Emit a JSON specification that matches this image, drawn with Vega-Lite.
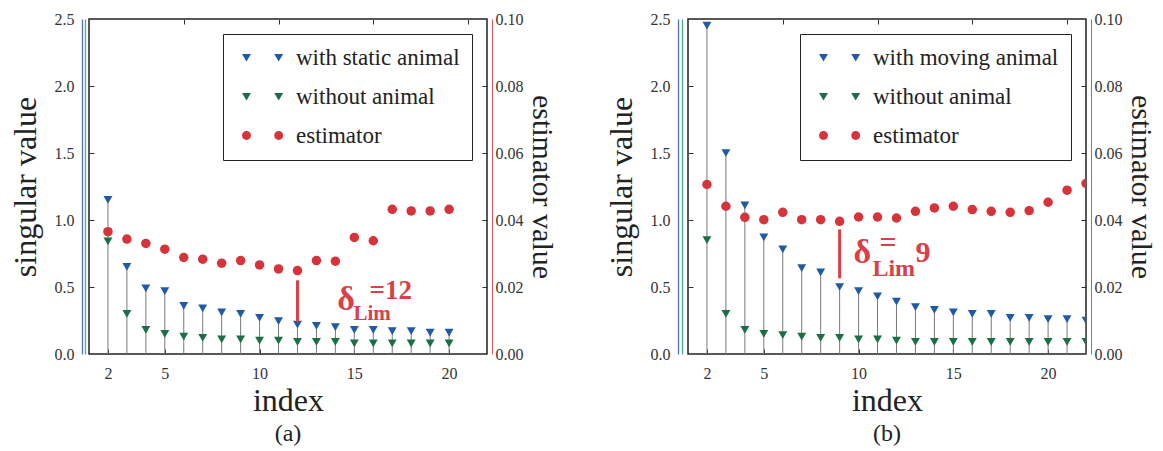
{
  "$schema": "https://vega.github.io/schema/vega-lite/v6.json",
  "background": "white",
  "padding": {"left": 8, "top": 10, "right": 0, "bottom": 5},
  "spacing": 47,
  "datasets": {
    "a": [
      {"i": 2, "w": 1.15, "wo": 0.84, "e": 0.0365},
      {"i": 3, "w": 0.65, "wo": 0.30, "e": 0.0343},
      {"i": 4, "w": 0.49, "wo": 0.18, "e": 0.0330},
      {"i": 5, "w": 0.47, "wo": 0.15, "e": 0.0313},
      {"i": 6, "w": 0.36, "wo": 0.13, "e": 0.0288},
      {"i": 7, "w": 0.34, "wo": 0.12, "e": 0.0283},
      {"i": 8, "w": 0.31, "wo": 0.11, "e": 0.0271},
      {"i": 9, "w": 0.30, "wo": 0.11, "e": 0.0279},
      {"i": 10, "w": 0.27, "wo": 0.10, "e": 0.0266},
      {"i": 11, "w": 0.245, "wo": 0.10, "e": 0.0254},
      {"i": 12, "w": 0.22, "wo": 0.09, "e": 0.0249},
      {"i": 13, "w": 0.21, "wo": 0.09, "e": 0.0279},
      {"i": 14, "w": 0.20, "wo": 0.09, "e": 0.0277},
      {"i": 15, "w": 0.18, "wo": 0.08, "e": 0.0348},
      {"i": 16, "w": 0.18, "wo": 0.08, "e": 0.0338},
      {"i": 17, "w": 0.17, "wo": 0.08, "e": 0.0432},
      {"i": 18, "w": 0.17, "wo": 0.08, "e": 0.0427},
      {"i": 19, "w": 0.16, "wo": 0.08, "e": 0.0427},
      {"i": 20, "w": 0.16, "wo": 0.08, "e": 0.0432}
    ],
    "b": [
      {"i": 2, "w": 2.45, "wo": 0.85, "e": 0.0506},
      {"i": 3, "w": 1.50, "wo": 0.30, "e": 0.0441},
      {"i": 4, "w": 1.11, "wo": 0.18, "e": 0.0408},
      {"i": 5, "w": 0.87, "wo": 0.15, "e": 0.0401},
      {"i": 6, "w": 0.78, "wo": 0.14, "e": 0.0423},
      {"i": 7, "w": 0.64, "wo": 0.13, "e": 0.0401},
      {"i": 8, "w": 0.61, "wo": 0.12, "e": 0.0401},
      {"i": 9, "w": 0.50, "wo": 0.12, "e": 0.0396},
      {"i": 10, "w": 0.47, "wo": 0.11, "e": 0.0409},
      {"i": 11, "w": 0.43, "wo": 0.11, "e": 0.0409},
      {"i": 12, "w": 0.39, "wo": 0.10, "e": 0.0406},
      {"i": 13, "w": 0.35, "wo": 0.09, "e": 0.0426},
      {"i": 14, "w": 0.33, "wo": 0.09, "e": 0.0436},
      {"i": 15, "w": 0.31, "wo": 0.09, "e": 0.0441},
      {"i": 16, "w": 0.30, "wo": 0.09, "e": 0.0431},
      {"i": 17, "w": 0.30, "wo": 0.09, "e": 0.0426},
      {"i": 18, "w": 0.27, "wo": 0.09, "e": 0.0423},
      {"i": 19, "w": 0.27, "wo": 0.09, "e": 0.0428},
      {"i": 20, "w": 0.26, "wo": 0.09, "e": 0.0453},
      {"i": 21, "w": 0.26, "wo": 0.09, "e": 0.0489},
      {"i": 22, "w": 0.25, "wo": 0.09, "e": 0.0509}
    ]
  },
  "resolve": {"scale": {"color": "independent", "shape": "independent"}, "legend": {"color": "independent", "shape": "independent"}},
  "hconcat": [
    {
      "width": 398,
      "height": 335,
      "data": {"name": "a"},
      "title": {"text": "(a)", "orient": "bottom", "font": "Liberation Serif", "fontSize": 24, "fontWeight": "normal", "color": "#222", "offset": 6},
      "resolve": {"scale": {"y": "independent"}, "axis": {"x": "independent", "y": "independent"}},
      "layer": [
        {
          "mark": {"type": "rule", "color": "#7a7a7a", "strokeWidth": 1, "clip": true},
          "encoding": {
            "x": {"field": "i", "type": "quantitative", "scale": {"domain": [1, 22], "nice": false, "zero": false},
              "axis": {"orient": "bottom", "values": [2, 5, 10, 15, 20], "tickSize": -5, "labelPadding": 16, "domain": false, "title": "index", "titlePadding": 4}},
            "y": {"field": "w", "type": "quantitative", "scale": {"domain": [0, 2.5], "nice": false},
              "axis": {"orient": "left", "values": [0.5, 1, 1.5, 2], "tickSize": -5, "labels": false, "domain": false, "title": null}},
            "y2": {"datum": 0}
          }
        },
        {
          "mark": {"type": "point", "shape": "triangle-down", "filled": true, "size": 80, "opacity": 1, "color": "#1f5aa6", "clip": true},
          "encoding": {
            "x": {"field": "i", "type": "quantitative", "axis": {"orient": "top", "values": [6, 11, 16, 21], "tickSize": -5, "labels": false, "domain": false, "title": null}},
            "y": {"field": "w", "type": "quantitative", "scale": {"domain": [0, 2.5], "nice": false},
              "axis": {"orient": "left", "offset": 7, "values": [0, 0.5, 1, 1.5, 2, 2.5], "format": ".1f", "ticks": false, "domainColor": "#4f74b3", "domainWidth": 1.3, "labelPadding": 8, "title": "singular value", "titlePadding": 12}}
          }
        },
        {
          "mark": {"type": "point", "shape": "triangle-down", "filled": true, "size": 80, "opacity": 1, "color": "#1b6e46", "clip": true},
          "encoding": {
            "x": {"field": "i", "type": "quantitative", "axis": null},
            "y": {"field": "wo", "type": "quantitative", "scale": {"domain": [0, 2.5], "nice": false},
              "axis": {"orient": "left", "offset": 4, "ticks": false, "labels": false, "domainColor": "#45b08f", "domainWidth": 1.3, "title": null}}
          }
        },
        {
          "mark": {"type": "point", "shape": "circle", "filled": true, "size": 90, "opacity": 1, "color": "#d6333a", "clip": true},
          "encoding": {
            "x": {"field": "i", "type": "quantitative", "axis": null},
            "y": {"field": "e", "type": "quantitative", "scale": {"domain": [0, 0.1], "nice": false},
              "axis": {"orient": "right", "offset": 5, "values": [0, 0.02, 0.04, 0.06, 0.08, 0.1], "format": ".2f", "ticks": false, "domainColor": "#d45a5a", "domainWidth": 1, "labelPadding": 3, "title": "estimator value", "titlePadding": 3, "titleFontSize": 30}}
          }
        },
        {
          "data": {"values": [{"s": "with static animal"}, {"s": "without animal"}, {"s": "estimator"}]},
          "mark": {"type": "point", "filled": true, "opacity": 0},
          "encoding": {
            "color": {"field": "s", "type": "nominal",
              "scale": {"domain": ["with static animal", "without animal", "estimator"], "range": ["#1f5aa6", "#1b6e46", "#d6333a"]},
              "legend": {"title": null, "orient": "top-right", "offset": 15, "strokeColor": "#222", "fillColor": "white", "padding": 12, "labelFont": "Liberation Serif", "labelFontSize": 23, "labelColor": "#222", "labelLimit": 400, "symbolSize": 80, "symbolOpacity": 1, "rowPadding": 15, "labelOffset": 38, "symbolStrokeWidth": 0}},
            "shape": {"field": "s", "type": "nominal",
              "scale": {"domain": ["with static animal", "without animal", "estimator"], "range": ["M-1,-0.8L1,-0.8L0,0.9Z M6.2,-0.8L8.2,-0.8L7.2,0.9Z", "M-1,-0.8L1,-0.8L0,0.9Z M6.2,-0.8L8.2,-0.8L7.2,0.9Z", "M1,0A1,1,0,1,1,-1,0A1,1,0,1,1,1,0Z M8.2,0A1,1,0,1,1,6.2,0A1,1,0,1,1,8.2,0Z"]},
              "legend": {"title": null, "orient": "top-right", "offset": 15, "strokeColor": "#222", "fillColor": "white", "padding": 12, "labelFont": "Liberation Serif", "labelFontSize": 23, "labelColor": "#222", "labelLimit": 400, "symbolSize": 80, "symbolOpacity": 1, "rowPadding": 15, "labelOffset": 38, "symbolStrokeWidth": 0}}
          }
        },
        {
          "data": {"values": [{}]},
          "mark": {"type": "rule", "color": "#d9404a", "strokeWidth": 3},
          "encoding": {
            "x": {"datum": 12, "type": "quantitative", "axis": null},
            "y": {"datum": 0.24, "type": "quantitative", "scale": {"domain": [0, 2.5], "nice": false},
              "axis": {"orient": "right", "values": [0.5, 1, 1.5, 2], "tickSize": -5, "labels": false, "domain": false, "title": null}},
            "y2": {"datum": 0.55}
          }
        },
        {
          "data": {"values": [{}]},
          "mark": {"type": "text", "color": "#d9404a", "font": "Liberation Serif", "fontWeight": "bold", "fontSize": 34, "align": "left", "baseline": "alphabetic"},
          "encoding": {
            "text": {"value": "δ"},
            "x": {"datum": 14.1, "type": "quantitative", "axis": null},
            "y": {"datum": 0.33, "type": "quantitative", "scale": {"domain": [0, 2.5], "nice": false}, "axis": null}
          }
        },
        {
          "data": {"values": [{}]},
          "mark": {"type": "text", "color": "#d9404a", "font": "Liberation Serif", "fontWeight": "bold", "fontSize": 21, "align": "left", "baseline": "alphabetic"},
          "encoding": {
            "text": {"value": "Lim"},
            "x": {"datum": 14.95, "type": "quantitative", "axis": null},
            "y": {"datum": 0.254, "type": "quantitative", "scale": {"domain": [0, 2.5], "nice": false}, "axis": null}
          }
        },
        {
          "data": {"values": [{}]},
          "mark": {"type": "text", "color": "#d9404a", "font": "Liberation Serif", "fontWeight": "bold", "fontSize": 27, "align": "left", "baseline": "alphabetic"},
          "encoding": {
            "text": {"value": "=12"},
            "x": {"datum": 15.8, "type": "quantitative", "axis": null},
            "y": {"datum": 0.41, "type": "quantitative", "scale": {"domain": [0, 2.5], "nice": false}, "axis": null}
          }
        }
      ]
    },
    {
      "width": 398,
      "height": 335,
      "data": {"name": "b"},
      "title": {"text": "(b)", "orient": "bottom", "font": "Liberation Serif", "fontSize": 24, "fontWeight": "normal", "color": "#222", "offset": 6},
      "resolve": {"scale": {"y": "independent"}, "axis": {"x": "independent", "y": "independent"}},
      "layer": [
        {
          "mark": {"type": "rule", "color": "#7a7a7a", "strokeWidth": 1, "clip": true},
          "encoding": {
            "x": {"field": "i", "type": "quantitative", "scale": {"domain": [1, 22], "nice": false, "zero": false},
              "axis": {"orient": "bottom", "values": [2, 5, 10, 15, 20], "tickSize": -5, "labelPadding": 16, "domain": false, "title": "index", "titlePadding": 4}},
            "y": {"field": "w", "type": "quantitative", "scale": {"domain": [0, 2.5], "nice": false},
              "axis": {"orient": "left", "values": [0.5, 1, 1.5, 2], "tickSize": -5, "labels": false, "domain": false, "title": null}},
            "y2": {"datum": 0}
          }
        },
        {
          "mark": {"type": "point", "shape": "triangle-down", "filled": true, "size": 80, "opacity": 1, "color": "#1f5aa6", "clip": true},
          "encoding": {
            "x": {"field": "i", "type": "quantitative", "axis": {"orient": "top", "values": [6, 11, 16, 21], "tickSize": -5, "labels": false, "domain": false, "title": null}},
            "y": {"field": "w", "type": "quantitative", "scale": {"domain": [0, 2.5], "nice": false},
              "axis": {"orient": "left", "offset": 10, "values": [0, 0.5, 1, 1.5, 2, 2.5], "format": ".1f", "ticks": false, "domainColor": "#4f74b3", "domainWidth": 1.3, "labelPadding": 8, "title": "singular value", "titlePadding": 12}}
          }
        },
        {
          "mark": {"type": "point", "shape": "triangle-down", "filled": true, "size": 80, "opacity": 1, "color": "#1b6e46", "clip": true},
          "encoding": {
            "x": {"field": "i", "type": "quantitative", "axis": null},
            "y": {"field": "wo", "type": "quantitative", "scale": {"domain": [0, 2.5], "nice": false},
              "axis": {"orient": "left", "offset": 6, "ticks": false, "labels": false, "domainColor": "#45b08f", "domainWidth": 1.3, "title": null}}
          }
        },
        {
          "mark": {"type": "point", "shape": "circle", "filled": true, "size": 90, "opacity": 1, "color": "#d6333a", "clip": true},
          "encoding": {
            "x": {"field": "i", "type": "quantitative", "axis": null},
            "y": {"field": "e", "type": "quantitative", "scale": {"domain": [0, 0.1], "nice": false},
              "axis": {"orient": "right", "offset": 5, "values": [0, 0.02, 0.04, 0.06, 0.08, 0.1], "format": ".2f", "ticks": false, "domainColor": "#d45a5a", "domainWidth": 1, "labelPadding": 3, "title": "estimator value", "titlePadding": 3, "titleFontSize": 30}}
          }
        },
        {
          "data": {"values": [{"s": "with moving animal"}, {"s": "without animal"}, {"s": "estimator"}]},
          "mark": {"type": "point", "filled": true, "opacity": 0},
          "encoding": {
            "color": {"field": "s", "type": "nominal",
              "scale": {"domain": ["with moving animal", "without animal", "estimator"], "range": ["#1f5aa6", "#1b6e46", "#d6333a"]},
              "legend": {"title": null, "orient": "top-right", "offset": 15, "strokeColor": "#222", "fillColor": "white", "padding": 12, "labelFont": "Liberation Serif", "labelFontSize": 23, "labelColor": "#222", "labelLimit": 400, "symbolSize": 80, "symbolOpacity": 1, "rowPadding": 15, "labelOffset": 38, "symbolStrokeWidth": 0}},
            "shape": {"field": "s", "type": "nominal",
              "scale": {"domain": ["with moving animal", "without animal", "estimator"], "range": ["M-1,-0.8L1,-0.8L0,0.9Z M6.2,-0.8L8.2,-0.8L7.2,0.9Z", "M-1,-0.8L1,-0.8L0,0.9Z M6.2,-0.8L8.2,-0.8L7.2,0.9Z", "M1,0A1,1,0,1,1,-1,0A1,1,0,1,1,1,0Z M8.2,0A1,1,0,1,1,6.2,0A1,1,0,1,1,8.2,0Z"]},
              "legend": {"title": null, "orient": "top-right", "offset": 15, "strokeColor": "#222", "fillColor": "white", "padding": 12, "labelFont": "Liberation Serif", "labelFontSize": 23, "labelColor": "#222", "labelLimit": 400, "symbolSize": 80, "symbolOpacity": 1, "rowPadding": 15, "labelOffset": 38, "symbolStrokeWidth": 0}}
          }
        },
        {
          "data": {"values": [{}]},
          "mark": {"type": "rule", "color": "#d9404a", "strokeWidth": 3},
          "encoding": {
            "x": {"datum": 9, "type": "quantitative", "axis": null},
            "y": {"datum": 0.565, "type": "quantitative", "scale": {"domain": [0, 2.5], "nice": false},
              "axis": {"orient": "right", "values": [0.5, 1, 1.5, 2], "tickSize": -5, "labels": false, "domain": false, "title": null}},
            "y2": {"datum": 0.93}
          }
        },
        {
          "data": {"values": [{}]},
          "mark": {"type": "text", "color": "#d9404a", "font": "Liberation Serif", "fontWeight": "bold", "fontSize": 34, "align": "left", "baseline": "alphabetic"},
          "encoding": {
            "text": {"value": "δ"},
            "x": {"datum": 9.73, "type": "quantitative", "axis": null},
            "y": {"datum": 0.677, "type": "quantitative", "scale": {"domain": [0, 2.5], "nice": false}, "axis": null}
          }
        },
        {
          "data": {"values": [{}]},
          "mark": {"type": "text", "color": "#d9404a", "font": "Liberation Serif", "fontWeight": "bold", "fontSize": 24, "align": "left", "baseline": "alphabetic"},
          "encoding": {
            "text": {"value": "Lim"},
            "x": {"datum": 10.73, "type": "quantitative", "axis": null},
            "y": {"datum": 0.58, "type": "quantitative", "scale": {"domain": [0, 2.5], "nice": false}, "axis": null}
          }
        },
        {
          "data": {"values": [{}]},
          "mark": {"type": "text", "color": "#d9404a", "font": "Liberation Serif", "fontWeight": "bold", "fontSize": 30, "align": "left", "baseline": "alphabetic"},
          "encoding": {
            "text": {"value": "="},
            "x": {"datum": 11.1, "type": "quantitative", "axis": null},
            "y": {"datum": 0.76, "type": "quantitative", "scale": {"domain": [0, 2.5], "nice": false}, "axis": null}
          }
        },
        {
          "data": {"values": [{}]},
          "mark": {"type": "text", "color": "#d9404a", "font": "Liberation Serif", "fontWeight": "bold", "fontSize": 30, "align": "left", "baseline": "alphabetic"},
          "encoding": {
            "text": {"value": "9"},
            "x": {"datum": 13.0, "type": "quantitative", "axis": null},
            "y": {"datum": 0.69, "type": "quantitative", "scale": {"domain": [0, 2.5], "nice": false}, "axis": null}
          }
        }
      ]
    }
  ],
  "config": {
    "font": "Liberation Serif",
    "view": {"stroke": "#222", "strokeWidth": 1.5},
    "legend": {"labelFont": "Liberation Serif"},
    "axis": {"labelFont": "Liberation Serif", "labelFontSize": 16, "labelColor": "#333", "titleFont": "Liberation Serif", "titleFontSize": 32, "titleFontWeight": "normal", "titleColor": "#222", "grid": false, "tickColor": "#333", "tickWidth": 1}
  }
}
